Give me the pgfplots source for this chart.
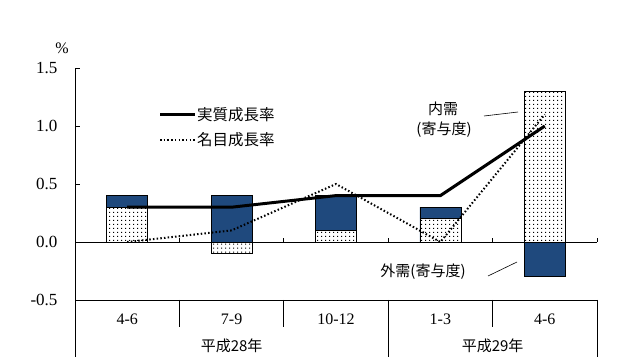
\documentclass[border=0pt]{standalone}
\usepackage{fontspec}
\setmainfont{Liberation Serif}
\newfontfamily\jp{Noto Sans CJK JP}
\usepackage{pgfplots}
\pgfplotsset{compat=1.18}
\usetikzlibrary{patterns.meta}
\definecolor{barblue}{RGB}{31,73,125}
\tikzdeclarepattern{
  name=sdots,
  type=uncolored,
  bounding box={(0,0) and (4pt,4pt)},
  tile size={(4pt,4pt)},
  code={\pgfpathrectangle{\pgfpoint{1.5pt}{1.5pt}}{\pgfpoint{1.1pt}{1.1pt}}\pgfusepath{fill}}
}
\begin{document}
\begin{tikzpicture}
\path (0pt,0pt) rectangle (641pt,362pt);
\begin{axis}[
  at={(75pt,62pt)}, anchor=south west,
  width=522pt, height=232pt, scale only axis,
  xmin=-0.5, xmax=4.5, ymin=-0.5, ymax=1.5,
  axis x line*=bottom, axis y line*=left,
  xtick={0,1,2,3,4},
  xticklabels={4-6,7-9,10-12,1-3,4-6},
  x tick style={draw=none},
  major tick length=5pt,
  ytick={-0.5,0,0.5,1,1.5},
  y tick style={black, thin},
  tick align=inside,
  /pgf/number format/assume math mode=true,
  yticklabel style={/pgf/number format/fixed, /pgf/number format/fixed zerofill, /pgf/number format/precision=1, font=\fontsize{17}{17}\selectfont, xshift=-14pt},
  xticklabel style={font=\fontsize{16}{16}\selectfont, yshift=-5pt},
  axis line style={black, line width=0.8pt},
  clip=false,
  ybar, bar width=41pt, bar shift=0pt,
]
% external demand positive part stacked on domestic (drawn as total first)
\addplot[ybar, bar shift=0pt, draw=black, line width=0.6pt, fill=barblue] coordinates {(0,0.4) (1,0.4) (2,0.4) (3,0.3)};
% domestic demand positive
\addplot[ybar, bar shift=0pt, draw=black, line width=0.6pt, fill=white, postaction={pattern={sdots}, pattern color=black}] coordinates {(0,0.3) (2,0.1) (3,0.2) (4,1.3)};
% domestic demand negative
\addplot[ybar, bar shift=0pt, draw=black, line width=0.6pt, fill=white, postaction={pattern={sdots}, pattern color=black}] coordinates {(1,-0.1)};
% external demand negative
\addplot[ybar, bar shift=0pt, draw=black, line width=0.6pt, fill=barblue] coordinates {(4,-0.3)};
% zero line
\draw[black, line width=0.8pt] (axis cs:-0.5,0) -- (axis cs:4.5,0);
\pgfplotsinvokeforeach{0.5,1.5,2.5,3.5,4.5}{\draw[black, line width=0.6pt] (axis cs:#1,0) -- ++(0pt,4pt);}
% nominal growth
\addplot[sharp plot, black, line width=2pt, dash pattern=on 1.5pt off 2.2pt] coordinates {(0,0) (1,0.1) (2,0.5) (3,0) (4,1.1)};
% real growth
\addplot[sharp plot, black, line width=3pt] coordinates {(0,0.3) (1,0.3) (2,0.4) (3,0.4) (4,1.0)};
% category separators
\draw[black, line width=0.8pt] (axis cs:-0.5,-0.5) -- ++(0pt,-57pt);
\pgfplotsinvokeforeach{0.5,1.5,3.5}{\draw[black, line width=0.8pt] (axis cs:#1,-0.5) -- ++(0pt,-27pt);}
\pgfplotsinvokeforeach{2.5,4.5}{\draw[black, line width=0.8pt] (axis cs:#1,-0.5) -- ++(0pt,-57pt);}
\node[font=\jp\fontsize{15}{15}\selectfont] at (axis cs:1,-0.5) [yshift=-46pt] {平成28年};
\node[font=\jp\fontsize{15}{15}\selectfont] at (axis cs:3.5,-0.5) [yshift=-46pt] {平成29年};
\end{axis}
\node[font=\fontsize{16}{16}\selectfont] at (62pt,314pt) {\%};
% legend
\draw[black, line width=3pt] (160pt,247pt) -- (195pt,247pt);
\node[anchor=west, inner sep=0pt, font=\jp\fontsize{15.5}{15.5}\selectfont] at (197pt,247pt) {実質成長率};
\draw[black, line width=1.8pt, dash pattern=on 1.5pt off 2.2pt] (160pt,222pt) -- (195pt,222pt);
\node[anchor=west, inner sep=0pt, font=\jp\fontsize{15.5}{15.5}\selectfont] at (197pt,222pt) {名目成長率};
% annotations
\node[font=\jp\fontsize{15}{15}\selectfont] at (443pt,253pt) {内需};
\node[font=\jp\fontsize{15}{15}\selectfont] at (444pt,232pt) {(寄与度)};
\draw[black, line width=0.6pt] (484pt,246pt) -- (518pt,250pt);
\node[font=\jp\fontsize{15}{15}\selectfont] at (423pt,90pt) {外需(寄与度)};
\draw[black, line width=0.6pt] (488pt,86pt) -- (517pt,100pt);
\end{tikzpicture}
\end{document}
